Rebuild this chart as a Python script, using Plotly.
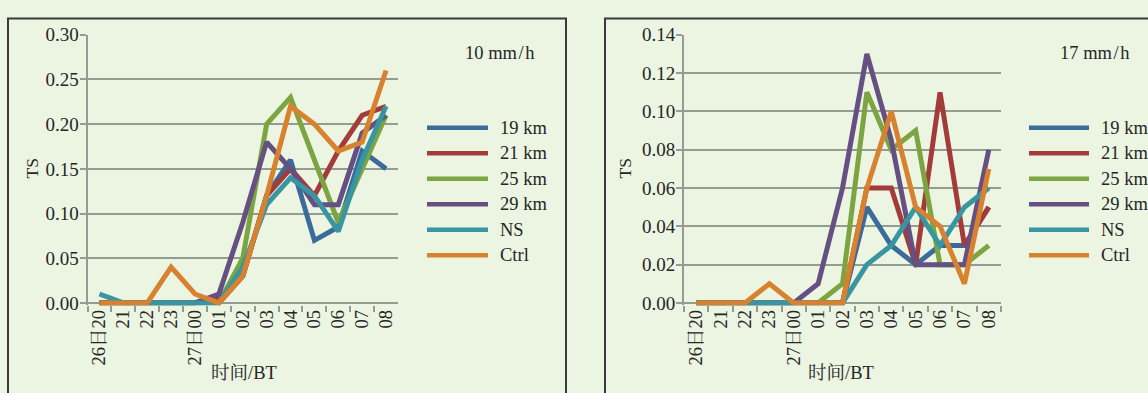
import plotly.graph_objects as go

# ---------------- data ----------------
categories = ["26日20", "21", "22", "23", "27日00", "01", "02", "03", "04", "05", "06", "07", "08"]
series_names = ["19 km", "21 km", "25 km", "29 km", "NS", "Ctrl"]
series_colors = ["#3A6B9A", "#A23B3A", "#7CA440", "#664F82", "#3895A2", "#D8822F"]

# 10 mm/h
ts10_19km = [0, 0, 0, 0, 0, 0, 0.03, 0.12, 0.16, 0.07, 0.085, 0.17, 0.15]
ts10_21km = [0, 0, 0, 0, 0, 0.005, 0.03, 0.12, 0.15, 0.12, 0.17, 0.21, 0.22]
ts10_25km = [0, 0, 0, 0, 0, 0, 0.05, 0.20, 0.23, 0.16, 0.09, 0.15, 0.21]
ts10_29km = [0, 0, 0, 0, 0, 0.01, 0.09, 0.18, 0.15, 0.11, 0.11, 0.19, 0.21]
ts10_ns = [0.01, 0, 0, 0, 0, 0, 0.04, 0.11, 0.14, 0.12, 0.08, 0.16, 0.22]
ts10_ctrl = [0, 0, 0, 0.04, 0.01, 0, 0.03, 0.12, 0.22, 0.20, 0.17, 0.18, 0.26]

# 17 mm/h
ts17_19km = [0, 0, 0, 0, 0, 0, 0, 0.05, 0.03, 0.02, 0.03, 0.03, 0.05]
ts17_21km = [0, 0, 0, 0, 0, 0, 0, 0.06, 0.06, 0.02, 0.11, 0.03, 0.05]
ts17_25km = [0, 0, 0, 0, 0, 0, 0.01, 0.11, 0.08, 0.09, 0.02, 0.02, 0.03]
ts17_29km = [0, 0, 0, 0, 0, 0.01, 0.06, 0.13, 0.085, 0.02, 0.02, 0.02, 0.08]
ts17_ns = [0, 0, 0, 0, 0, 0, 0, 0.02, 0.03, 0.05, 0.03, 0.05, 0.06]
ts17_ctrl = [0, 0, 0, 0.01, 0, 0, 0, 0.06, 0.10, 0.05, 0.04, 0.01, 0.07]

panel_titles = ["10 mm/h", "17 mm/h"]
y_title = "TS"
x_title = "时间/BT"

panel10 = [ts10_19km, ts10_21km, ts10_25km, ts10_29km, ts10_ns, ts10_ctrl]
panel17 = [ts17_19km, ts17_21km, ts17_25km, ts17_29km, ts17_ns, ts17_ctrl]

# ---------------- layout helpers ----------------
W, H = 1148, 393
BG = "#EBF5E2"
GRID = "#939C93"
TXT = "#262626"
FONT = "Liberation Serif, Noto Serif CJK SC, Noto Sans CJK SC, serif"


def px(x):
    return x / W


def py(y):
    return 1 - y / H


fig = go.Figure()

panels = [
    dict(data=panel10, xa="x", ya="y", ymax=0.30, dtick=0.05,
         dom_x=(87.5, 398), leg_x=(427, 488), box_x=(8, 566),
         title_x=499, ytitle_x=32, xtitle_x=244),
    dict(data=panel17, xa="x2", ya="y2", ymax=0.14, dtick=0.02,
         dom_x=(684, 1001), leg_x=(1029, 1089), box_x=(605, 1160),
         title_x=1094, ytitle_x=625, xtitle_x=841),
]

shapes = []
annotations = []
top_px, zero_px = 26, 307

for p_i, p in enumerate(panels):
    for name, color, vals in zip(series_names, series_colors, p["data"]):
        fig.add_trace(go.Scatter(
            x=categories, y=vals, name=name, mode="lines",
            line=dict(color=color, width=5),
            xaxis=p["xa"], yaxis=p["ya"], showlegend=False,
        ))
    pad = p["ymax"] * 2.5 / (zero_px - top_px)
    suffix = "" if p_i == 0 else "2"
    xdom = [px(p["dom_x"][0]), px(p["dom_x"][1])]
    ydom = [py(zero_px + 2.5), py(top_px)]
    fig.update_layout(**{
        "xaxis" + suffix: dict(
            domain=xdom, type="category", categoryorder="array",
            categoryarray=categories, range=[-0.5, len(categories) - 0.5],
            tickson="boundaries", ticks="outside", ticklen=6, tickwidth=2,
            tickcolor=GRID, showgrid=False, showline=False, zeroline=False,
            tickangle=-90, tickfont=dict(family=FONT, size=18.5, color=TXT),
            anchor="y" + suffix, fixedrange=True,
        ),
        "yaxis" + suffix: dict(
            domain=ydom, range=[-pad, p["ymax"] + 1e-9], dtick=p["dtick"], tick0=0,
            tickformat=".2f", ticks="outside", ticklen=6, tickwidth=2,
            tickcolor=GRID, showgrid=True, gridcolor=GRID, gridwidth=2,
            zeroline=True, zerolinecolor=GRID, zerolinewidth=2,
            showline=True, linecolor=GRID, linewidth=2,
            ticklabelstandoff=-3,
            tickfont=dict(family=FONT, size=19, color=TXT),
            anchor="x" + suffix, fixedrange=True,
        ),
    })
    # panel frame
    bx0, bx1 = p["box_x"]
    shapes.append(dict(type="path", xref="paper", yref="paper",
                       path=f"M {px(bx0)} {py(H + 20)} L {px(bx0)} {py(9)} L {px(bx1)} {py(9)} L {px(bx1)} {py(H + 20)}",
                       line=dict(color="#3A3A3A", width=2)))
    # legend (manual, to match long legend swatches)
    lx0, lx1 = p["leg_x"]
    for i, (name, color) in enumerate(zip(series_names, series_colors)):
        yy = 123.5 + i * 26.7
        shapes.append(dict(type="line", xref="paper", yref="paper",
                           x0=px(lx0), x1=px(lx1), y0=py(yy), y1=py(yy),
                           line=dict(color=color, width=4.5)))
        annotations.append(dict(xref="paper", yref="paper", x=px(lx1 + 10), y=py(yy),
                                text=name, showarrow=False, xanchor="left", yanchor="middle",
                                font=dict(family=FONT, size=18.5, color=TXT)))
    # panel label
    annotations.append(dict(xref="paper", yref="paper", x=px(p["title_x"]), y=py(45),
                            text=panel_titles[p_i].replace("/", "\u200a/\u200a"), showarrow=False,
                            xanchor="center", yanchor="middle",
                            font=dict(family=FONT, size=18.5, color=TXT)))
    # axis titles
    annotations.append(dict(xref="paper", yref="paper", x=px(p["ytitle_x"]), y=py(166),
                            text=y_title, showarrow=False, textangle=-90,
                            xanchor="center", yanchor="middle",
                            font=dict(family=FONT, size=17.5, color=TXT)))
    annotations.append(dict(xref="paper", yref="paper", x=px(p["xtitle_x"]), y=py(380),
                            text=x_title, showarrow=False, xanchor="center", yanchor="middle",
                            font=dict(family=FONT, size=18.5, color=TXT)))

fig.update_layout(
    width=W, height=H, margin=dict(l=0, r=0, t=0, b=0),
    paper_bgcolor=BG, plot_bgcolor=BG, showlegend=False,
    shapes=shapes, annotations=annotations,
    font=dict(family=FONT, color=TXT),
)

fig.write_html(
    "out.html",
    config={"displayModeBar": False},
    post_script="document.body.style.margin='0';document.body.style.padding='0';"
                "document.body.style.overflow='hidden';"
                "document.documentElement.style.overflow='hidden';",
)
